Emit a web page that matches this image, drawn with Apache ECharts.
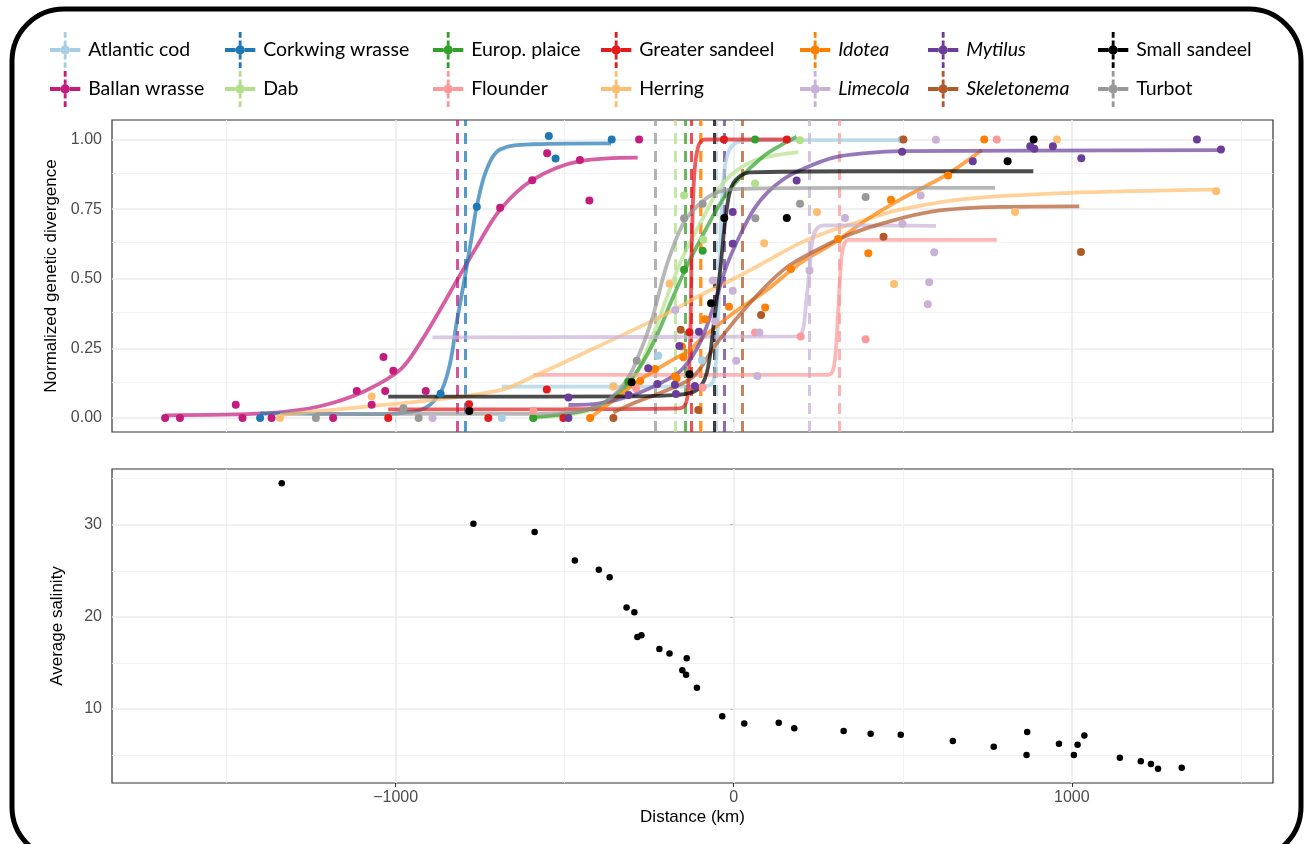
<!DOCTYPE html>
<html>
<head>
<meta charset="utf-8">
<title>Clines and salinity</title>
<script src="https://cdn.jsdelivr.net/npm/echarts@6/dist/echarts.min.js"></script>
<style>
  html, body { margin: 0; padding: 0; background: #fff; }
  #chart { width: 1309px; height: 844px; }
</style>
</head>
<body>
<div id="chart"></div>
<script>
// species, in legend order
var species = ["Atlantic cod", "Ballan wrasse", "Corkwing wrasse", "Dab", "Europ. plaice", "Flounder",
  "Greater sandeel", "Herring", "Idotea", "Limecola", "Mytilus", "Skeletonema", "Small sandeel", "Turbot"];
var colors = ["#a6cee3", "#c51b7d", "#1f78b4", "#b2df8a", "#33a02c", "#fb9a99",
  "#e31a1c", "#fdbf6f", "#ff7f00", "#cab2d6", "#6a3d9a", "#b15928", "#000000", "#999999"];
var italicNames = ["Idotea", "Limecola", "Mytilus", "Skeletonema"];
// cline centres (km), the dashed lines
var centres = [-52, -818, -795, -172, -142, 311, -126, -97, -100, 224, -29, 25, -57, -231];

// sampled points [distance km, normalized divergence]
var codPts = [[-686, 0], [-356, 0.114], [-223, 0.224], [-94, 0.208], [497, 1.0]];
var ballanPts = [[-1682, 0], [-1638, 0], [-1473, 0.048], [-1453, 0], [-1367, 0], [-1185, 0], [-1115, 0.097],
  [-1071, 0.048], [-1031, 0.097], [-1036, 0.219], [-1007, 0.17], [-911, 0.097], [-691, 0.755], [-596, 0.854],
  [-552, 0.951], [-455, 0.926], [-427, 0.781], [-280, 1.0]];
var corkwingPts = [[-1401, 0], [-867, 0.087], [-760, 0.759], [-547, 1.013], [-527, 0.932], [-361, 1.0]];
var dabPts = [[-593, 0], [-147, 0.799], [-90, 0.64], [63, 0.842], [196, 0.997]];
var plaicePts = [[-593, 0], [-312, 0.13], [-147, 0.532], [-92, 0.601], [63, 1.0]];
var flounderPts = [[-593, 0.025], [-289, 0.107], [-92, 0.11], [63, 0.307], [198, 0.293], [390, 0.283], [778, 1.0]];
var gSandeelPts = [[-1022, 0], [-783, 0.05], [-726, 0], [-553, 0.103], [-504, 0], [-131, 0.308], [-29, 1.0], [157, 1.0]];
var herringPts = [[-1342, 0], [-1071, 0.077], [-356, 0.113], [-190, 0.482], [90, 0.628], [246, 0.74],
  [474, 0.481], [832, 0.74], [956, 1.0], [1427, 0.814]];
var idoteaPts = [[-425, 0], [-277, 0.133], [-233, 0.176], [-174, 0.149], [-169, 0.143], [-153, 0.257],
  [-149, 0.218], [-85, 0.355], [-14, 0.4], [93, 0.397], [169, 0.535], [309, 0.643], [398, 0.592],
  [465, 0.784], [634, 0.871], [741, 1.0]];
var limecolaPts = [[-891, 0], [-173, 0.388], [-62, 0.494], [-55, 0.347], [-3, 0.457], [7, 0.206], [70, 0.151],
  [76, 0.307], [224, 0.53], [329, 0.718], [499, 0.698], [553, 0.799], [578, 0.488], [574, 0.409],
  [593, 0.595], [598, 0.999]];
var mytilusPts = [[-489, 0], [-489, 0.074], [-311, 0.083], [-253, 0.179], [-226, 0.122], [-171, 0.086],
  [-161, 0.259], [-174, 0.12], [-115, 0.115], [-103, 0.31], [-3, 0.74], [-3, 0.626], [186, 0.853],
  [498, 0.956], [707, 0.922], [877, 0.976], [889, 0.967], [944, 0.976], [1028, 0.933], [1370, 1.0], [1441, 0.964]];
var skeletonemaPts = [[-356, 0], [-157, 0.317], [-105, 0.029], [81, 0.37], [443, 0.651], [502, 1.0], [1027, 0.596]];
var sSandeelPts = [[-782, 0.025], [-302, 0.129], [-131, 0.157], [-67, 0.412], [-28, 0.718], [157, 0.718],
  [810, 0.922], [887, 1.0]];
var turbotPts = [[-1236, 0], [-977, 0.035], [-932, 0], [-287, 0.206], [-147, 0.717], [-92, 0.769],
  [64, 0.717], [196, 0.769], [390, 0.794]];

// fitted cline curves
var codFit = [[-686, 0.113], [-120, 0.113], [-70, 0.118], [-55, 0.173], [-45, 0.388], [-36, 0.748], [-26, 0.904],
  [-12, 0.965], [10, 0.99], [50, 0.997], [497, 0.998]];
var ballanFit = [[-1682, 0.01], [-1382, 0.017], [-1283, 0.029], [-1185, 0.055], [-1086, 0.1], [-987, 0.173],
  [-928, 0.269], [-869, 0.388], [-818, 0.496], [-760, 0.616], [-691, 0.748], [-596, 0.854], [-455, 0.922], [-284, 0.935]];
var corkwingFit = [[-1401, 0.017], [-1086, 0.014], [-928, 0.029], [-869, 0.089], [-839, 0.197], [-820, 0.34],
  [-795, 0.508], [-775, 0.652], [-760, 0.76], [-731, 0.892], [-691, 0.964], [-593, 0.983], [-363, 0.986]];
var dabFit = [[-593, 0.0], [-450, 0.02], [-356, 0.06], [-297, 0.14], [-238, 0.3], [-190, 0.46], [-150, 0.58],
  [-90, 0.72], [-40, 0.83], [10, 0.89], [68, 0.928], [130, 0.945], [190, 0.955]];
var plaiceFit = [[-593, 0.003], [-435, 0.029], [-356, 0.077], [-297, 0.149], [-238, 0.269], [-179, 0.436],
  [-139, 0.544], [-90, 0.66], [-40, 0.77], [9, 0.85], [88, 0.94], [140, 0.98], [186, 1.01]];
var flounderFit = [[-593, 0.155], [280, 0.155], [293, 0.17], [301, 0.23], [309, 0.388], [317, 0.55],
  [325, 0.62], [340, 0.64], [778, 0.64]];
var gSandeelFit = [[-1022, 0.031], [-500, 0.032], [-160, 0.035], [-145, 0.045], [-137, 0.077], [-129, 0.269],
  [-124, 0.628], [-117, 0.868], [-105, 0.975], [-85, 1.0], [157, 1.0]];
var herringFit = [[-1342, 0.011], [-1086, 0.041], [-889, 0.065], [-691, 0.1], [-593, 0.149], [-396, 0.26],
  [-198, 0.375], [-100, 0.44], [0, 0.5], [48, 0.53], [100, 0.565], [196, 0.628], [295, 0.676], [344, 0.695],
  [492, 0.748], [689, 0.787], [985, 0.808], [1424, 0.82]];
var idoteaFit = [[-425, 0], [-356, 0.065], [-277, 0.137], [-198, 0.197], [-129, 0.245], [-100, 0.28], [-1, 0.377],
  [98, 0.46], [196, 0.556], [295, 0.628], [393, 0.712], [492, 0.784], [630, 0.874], [734, 0.962]];
var limecolaFit = [[-891, 0.29], [190, 0.293], [205, 0.32], [213, 0.4], [224, 0.532], [235, 0.652], [250, 0.685],
  [270, 0.692], [598, 0.69]];
var mytilusFit = [[-489, 0.047], [-396, 0.053], [-297, 0.083], [-198, 0.137], [-149, 0.18], [-100, 0.27], [-60, 0.4],
  [-20, 0.55], [20, 0.66], [60, 0.75], [100, 0.81], [150, 0.86], [196, 0.89], [295, 0.935], [400, 0.952],
  [497, 0.958], [1441, 0.962]];
var skeletonemaFit = [[-356, 0.02], [-297, 0.053], [-198, 0.1], [-120, 0.149], [-50, 0.269], [48, 0.413],
  [147, 0.532], [246, 0.604], [344, 0.66], [443, 0.7], [590, 0.742], [788, 0.758], [1022, 0.76]];
var sSandeelFit = [[-1022, 0.077], [-300, 0.078], [-169, 0.083], [-110, 0.1], [-80, 0.161], [-60, 0.328],
  [-40, 0.532], [-21, 0.748], [-1, 0.844], [48, 0.882], [344, 0.886], [886, 0.886]];
var turbotFit = [[-1236, 0.015], [-600, 0.015], [-455, 0.025], [-390, 0.05], [-340, 0.1], [-305, 0.16],
  [-287, 0.209], [-260, 0.29], [-238, 0.37], [-198, 0.55], [-149, 0.7], [-100, 0.77], [-50, 0.81],
  [20, 0.823], [344, 0.826], [773, 0.826]];

var points = [codPts, ballanPts, corkwingPts, dabPts, plaicePts, flounderPts, gSandeelPts, herringPts,
  idoteaPts, limecolaPts, mytilusPts, skeletonemaPts, sSandeelPts, turbotPts];
var fits = [codFit, ballanFit, corkwingFit, dabFit, plaiceFit, flounderFit, gSandeelFit, herringFit,
  idoteaFit, limecolaFit, mytilusFit, skeletonemaFit, sSandeelFit, turbotFit];

// lower panel: salinity along the transect
var salDist = [-1337, -770, -589, -470, -399, -367, -317, -294, -285, -273, -220, -190, -139, -152, -141, -109,
  -34, 31, 133, 179, 325, 405, 494, 648, 769, 868, 866, 962, 1006, 1017, 1037, 1142, 1204, 1234, 1255, 1325];
var salValue = [34.5, 30.1, 29.2, 26.1, 25.1, 24.3, 21.0, 20.5, 17.8, 18.0, 16.5, 16.0, 15.5, 14.2, 13.7, 12.3,
  9.2, 8.4, 8.5, 7.9, 7.6, 7.3, 7.2, 6.5, 5.9, 7.5, 5.0, 6.2, 5.0, 6.1, 7.1, 4.7, 4.3, 4.0, 3.5, 3.6];

// ticks
var distTicks = [-1000, 0, 1000];
var distMinor = [-1500, -500, 500, 1500];
var divTicks = [0, 0.25, 0.5, 0.75, 1];
var divMinor = [0.125, 0.375, 0.625, 0.875];
var salTicks = [10, 20, 30];
var salMinor = [5, 15, 25, 35];

var legendCols = [[0, 1], [2, 3], [4, 5], [6, 7], [8, 9], [10, 11], [12, 13]];

var chart = echarts.init(document.getElementById('chart'));

// plus-with-dot key, like the ggplot legend glyph
var keyIcon = 'path://M0,17H11V21H0Z M21,17H32V21H21Z M14.5,0H17.5V6H14.5Z M14.5,9H17.5V14H14.5Z ' +
  'M14.5,24H17.5V29H14.5Z M14.5,32H17.5V38H14.5Z M11,19A5,5 0 1 1 21,19A5,5 0 1 1 11,19Z';

function gridLines(idx, yMaj, yMin) {
  var d = [];
  yMaj.forEach(function (v) { d.push({ yAxis: v, lineStyle: { color: '#ebebeb', width: 1.6, type: 'solid' } }); });
  yMin.forEach(function (v) { d.push({ yAxis: v, lineStyle: { color: '#efefef', width: 0.8, type: 'solid' } }); });
  distTicks.forEach(function (v) { d.push({ xAxis: v, lineStyle: { color: '#ebebeb', width: 1.6, type: 'solid' } }); });
  distMinor.forEach(function (v) { d.push({ xAxis: v, lineStyle: { color: '#efefef', width: 0.8, type: 'solid' } }); });
  return {
    name: 'grid' + idx, type: 'line', xAxisIndex: idx, yAxisIndex: idx, data: [], silent: true, z: 1,
    markLine: { silent: true, z: 1, symbol: ['none', 'none'], label: { show: false },
      emphasis: { disabled: true }, data: d }
  };
}

var series = [gridLines(0, divTicks, divMinor), gridLines(1, salTicks, salMinor)];

species.forEach(function (name, i) {
  series.push({
    name: name + ' cline', type: 'line', xAxisIndex: 0, yAxisIndex: 0, data: fits[i],
    smooth: 0.35, showSymbol: false, symbol: 'none', silent: true, z: 3,
    lineStyle: { color: colors[i], width: 3.8, opacity: 0.7 },
    itemStyle: { color: colors[i] },
    markLine: {
      silent: true, z: 2, symbol: ['none', 'none'], label: { show: false }, emphasis: { disabled: true },
      lineStyle: { color: colors[i], width: 3, type: [11, 7], opacity: 0.75 },
      data: [{ xAxis: centres[i] }]
    }
  });
});
species.forEach(function (name, i) {
  series.push({
    name: name, type: 'scatter', xAxisIndex: 0, yAxisIndex: 0, data: points[i],
    symbolSize: 8, itemStyle: { color: colors[i], opacity: 1 }, z: 4
  });
});
series.push({
  name: 'Average salinity', type: 'scatter', xAxisIndex: 1, yAxisIndex: 1,
  data: salDist.map(function (d, k) { return [d, salValue[k]]; }),
  symbolSize: 6.5, itemStyle: { color: '#000', opacity: 1 }, z: 4
});

var legendLefts = [45, 220, 428, 596, 795, 923, 1093];
var legends = legendCols.map(function (col, c) {
  return {
    orient: 'vertical', left: legendLefts[c], top: 27, itemWidth: 36, itemHeight: 36, itemGap: 3,
    icon: keyIcon, selectedMode: false,
    data: col.map(function (k) { return species[k]; }),
    formatter: function (n) { return italicNames.indexOf(n) >= 0 ? '{i|' + n + '}' : n; },
    textStyle: {
      fontFamily: 'Lato', fontSize: 19.5, color: '#000',
      rich: { i: { fontFamily: 'Lato', fontSize: 19.5, fontStyle: 'italic', color: '#000' } }
    }
  };
});

var axisFont = { fontFamily: 'Liberation Sans', fontSize: 16, color: '#4d4d4d' };
var titleFont = { fontFamily: 'Liberation Sans', fontSize: 17, color: '#000' };

chart.setOption({
  animation: false,
  backgroundColor: '#fff',
  legend: legends,
  grid: [
    { left: 112, top: 120, width: 1161, height: 312, show: true, borderColor: '#333', borderWidth: 1.2, backgroundColor: 'transparent' },
    { left: 112, top: 469, width: 1161, height: 314, show: true, borderColor: '#333', borderWidth: 1.2, backgroundColor: 'transparent' }
  ],
  xAxis: [
    { gridIndex: 0, type: 'value', min: -1839, max: 1595,
      axisLine: { show: false }, splitLine: { show: false },
      axisTick: { show: true, customValues: distTicks, length: 4, lineStyle: { color: '#333' } },
      axisLabel: { show: false } },
    { gridIndex: 1, type: 'value', min: -1839, max: 1595,
      axisLine: { show: false }, splitLine: { show: false },
      axisTick: { show: true, customValues: distTicks, length: 4, lineStyle: { color: '#333' } },
      axisLabel: Object.assign({ customValues: distTicks, margin: 7,
        formatter: function (v) { return v < 0 ? '\u2212' + Math.abs(v) : String(v); } }, axisFont),
      name: 'Distance (km)', nameLocation: 'middle', nameGap: 26, nameTextStyle: titleFont }
  ],
  yAxis: [
    { gridIndex: 0, type: 'value', min: -0.05, max: 1.07,
      axisLine: { show: false }, splitLine: { show: false },
      axisTick: { show: true, customValues: divTicks, length: 4, lineStyle: { color: '#333' } },
      axisLabel: Object.assign({ customValues: divTicks, margin: 10,
        formatter: function (v) { return v.toFixed(2); } }, axisFont),
      name: 'Normalized genetic divergence', nameLocation: 'middle', nameGap: 46, nameTextStyle: titleFont },
    { gridIndex: 1, type: 'value', min: 1.95, max: 36.05,
      axisLine: { show: false }, splitLine: { show: false },
      axisTick: { show: true, customValues: salTicks, length: 4, lineStyle: { color: '#333' } },
      axisLabel: Object.assign({ customValues: salTicks, margin: 10 }, axisFont),
      name: 'Average salinity', nameLocation: 'middle', nameGap: 46, nameTextStyle: titleFont }
  ],
  graphic: [{
    type: 'rect', silent: true, z: 100,
    shape: { x: 12, y: 9, width: 1289, height: 850, r: 52 },
    style: { fill: 'none', stroke: '#000', lineWidth: 5 }
  }],
  series: series
});
</script>
</body>
</html>
